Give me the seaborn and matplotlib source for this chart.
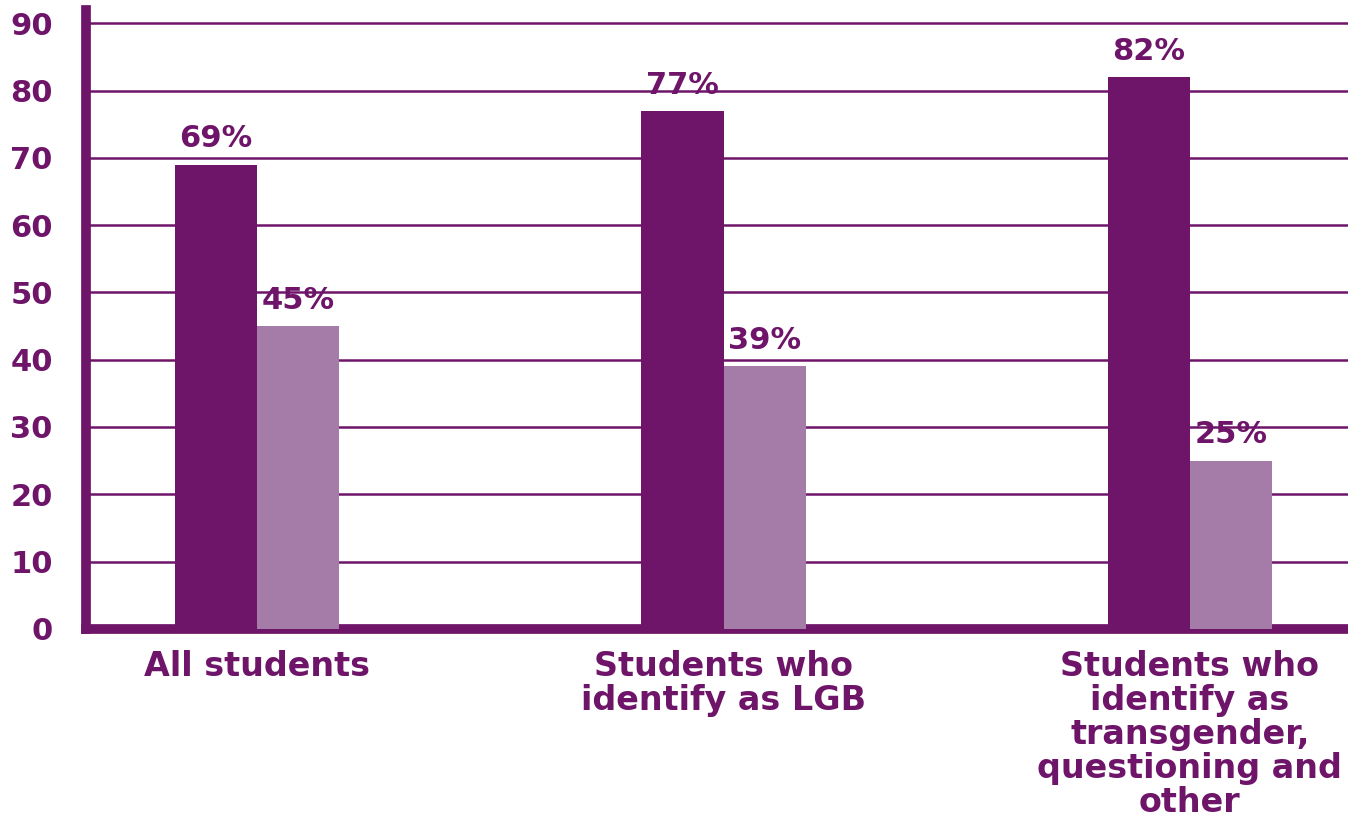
import pandas as pd
import seaborn as sns
from matplotlib import pyplot as plt

# data
groups = ["All students",
          "Students who\nidentify as LGB",
          "Students who\nidentify as\ntransgender,\nquestioning and\nother"]
series = ["A", "B"]
values_a = [69, 77, 82]
values_b = [45, 39, 25]
yticks = [0, 10, 20, 30, 40, 50, 60, 70, 80, 90]

dark = "#6E1469"
light = "#A57BA8"

sns.set_style("white")
plt.rcParams['font.family'] = ['DejaVu Sans']

df = pd.DataFrame({
    "group": groups * 2,
    "series": [series[0]] * 3 + [series[1]] * 3,
    "value": values_a + values_b,
})

fig = plt.figure(figsize=(13.48, 8.23), dpi=100)
ax = fig.add_axes([0.0638, 0.236, 0.9362, 0.752])

sns.barplot(data=df, x="group", y="value", hue="series", order=groups,
            hue_order=series, palette=[dark, light], width=0.352,
            gap=0, saturation=1, legend=False, ax=ax, zorder=3,
            linewidth=0, edgecolor="none")

# value labels
for cont in ax.containers:
    ax.bar_label(cont, labels=[f"{v:.0f}%" for v in cont.datavalues],
                 padding=8, fontsize=22, fontweight="bold", color=dark)

ax.set_ylim(0, 92)
ax.set_xlim(-0.367, 2.339)
ax.set_yticks(yticks)
ax.yaxis.grid(True, color=dark, linewidth=1.8, zorder=0)
ax.set_axisbelow(True)
ax.set_xlabel("")
ax.set_ylabel("")

for s in ["top", "right"]:
    ax.spines[s].set_visible(False)
for s in ["left", "bottom"]:
    ax.spines[s].set_color(dark)
    ax.spines[s].set_linewidth(7)

ax.tick_params(axis="y", length=0, pad=24, labelsize=22, labelcolor=dark)
ax.tick_params(axis="x", length=0, pad=15, labelsize=24, labelcolor=dark)
for lab in ax.get_yticklabels() + ax.get_xticklabels():
    lab.set_fontweight("bold")
for lab in ax.get_xticklabels():
    lab.set_verticalalignment("top")
    lab.set_horizontalalignment("center")
    lab.set_multialignment("center")
    lab.set_linespacing(1.04)

plt.savefig("out.png", dpi=100)
